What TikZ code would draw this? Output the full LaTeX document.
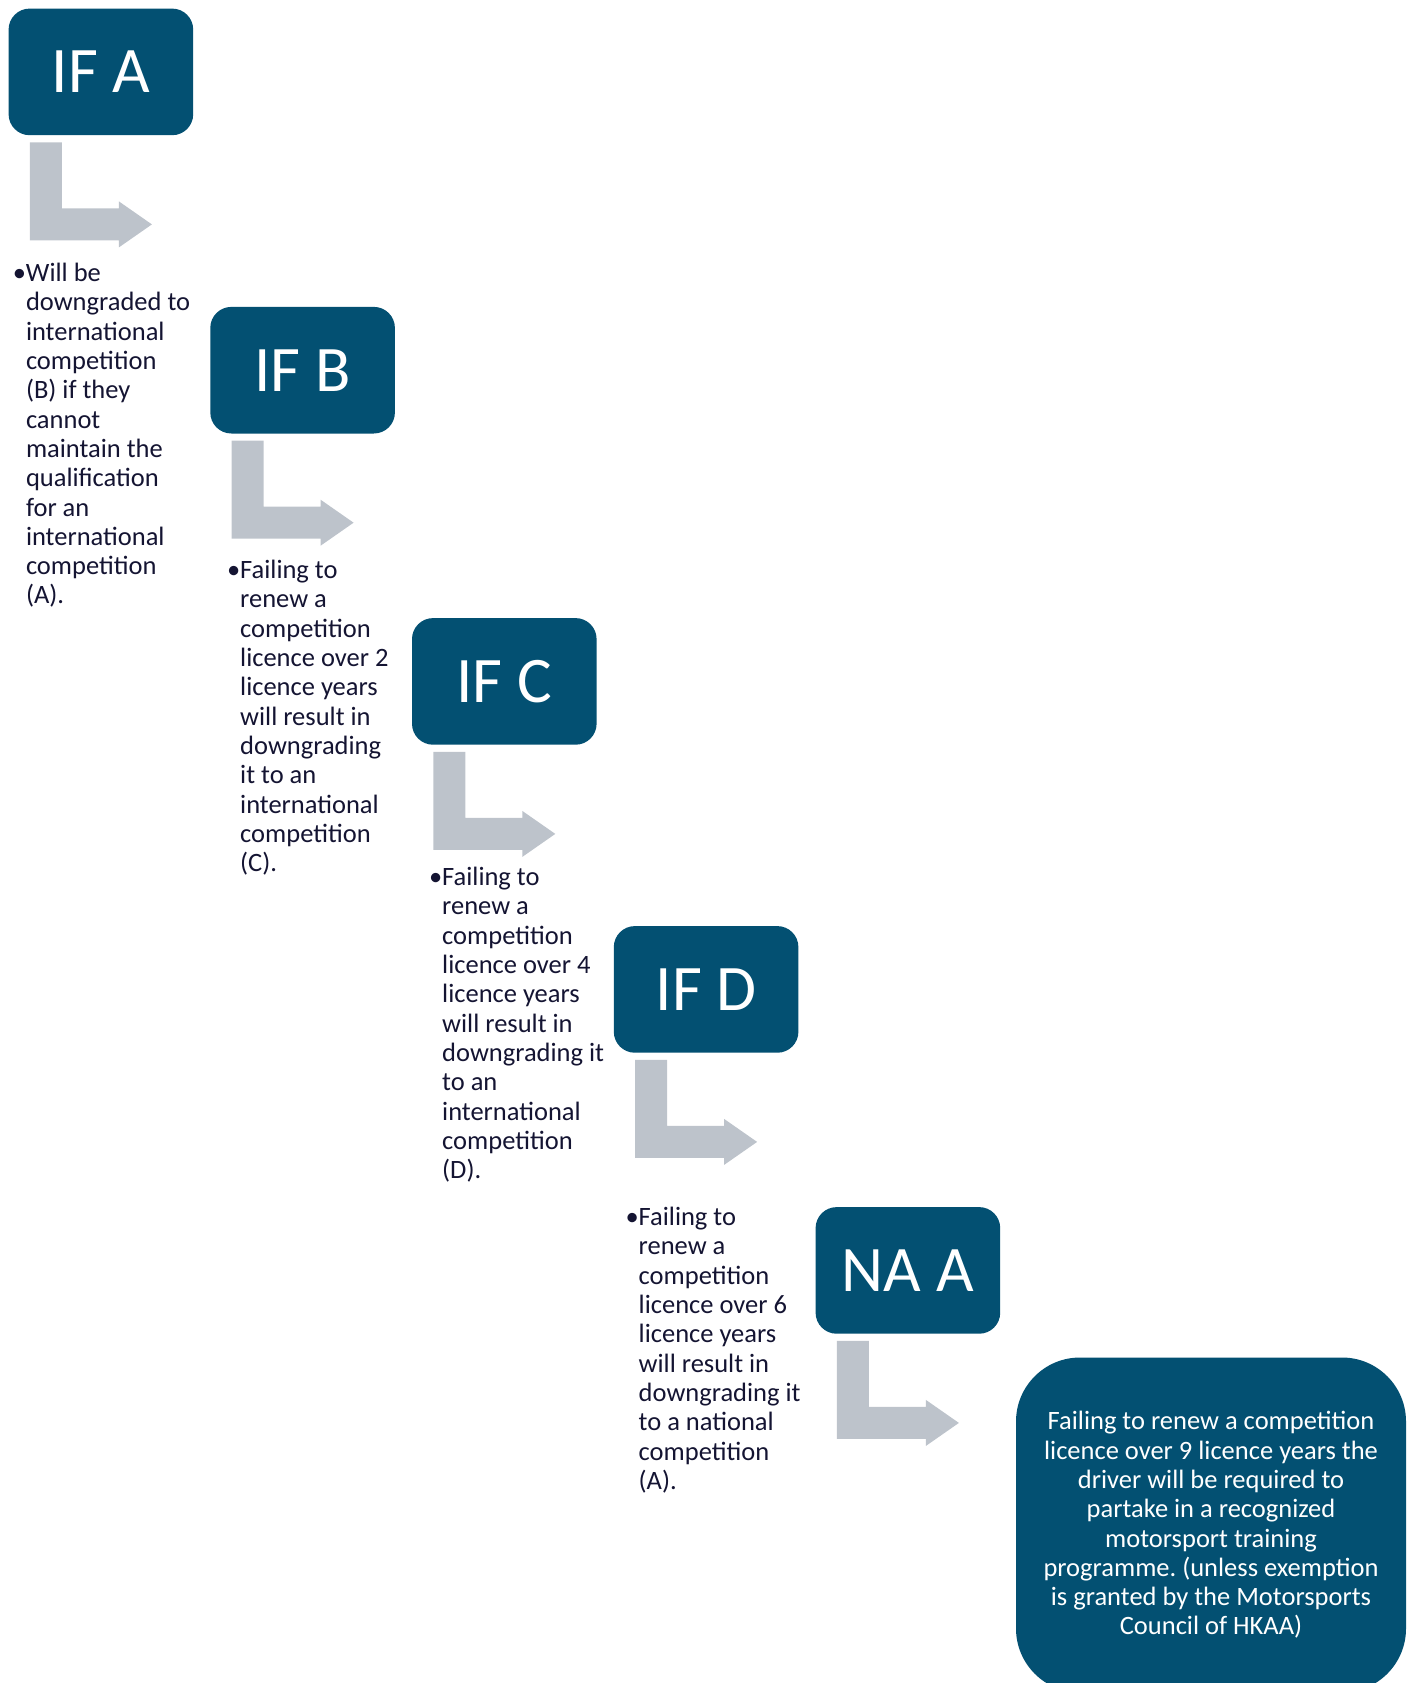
\documentclass[tikz,border=0pt]{standalone}
\usepackage{fontspec}
\setmainfont{Carlito}
\frenchspacing
\definecolor{boxblue}{HTML}{035072}
\definecolor{arrowgray}{HTML}{BDC3CB}
\definecolor{textnavy}{HTML}{141432}
\tikzset{
  grade/.style={fill=boxblue, text=white, rounded corners=21pt, minimum width=184.6pt,
    minimum height=126.6pt, inner sep=0pt, font=\fontsize{65}{72}\selectfont},
  ruletext/.style={anchor=north west, align=left, inner sep=0pt, text=textnavy,
    font=\fontsize{26.5}{29.3}\selectfont},
  lastbox/.style={fill=boxblue, text=white, rounded corners=64pt, minimum width=390pt,
    minimum height=335pt, inner sep=0pt, align=center, font=\fontsize{26.5}{29.3}\selectfont}
}
% bent grey arrow under a grade box
\newcommand{\bentarrow}[1]{%
  \fill[arrowgray, shift={(#1.south west)}] (21.5,7) -- (53.5,7) -- (53.5,73) -- (110.5,73)
    -- (110.5,66) -- (143.5,89) -- (110.5,112) -- (110.5,105) -- (21.5,105) -- cycle;}
\begin{document}
\begin{tikzpicture}[x=1pt,y=-1pt]
\useasboundingbox (0,0) rectangle (1410,1683);
\clip (0,0) rectangle (1410,1683);
% grade boxes
\node[grade] (ifa) at (100.9,71.9) {IF A};
\node[grade] (ifb) at (302.6,370.2) {IF B};
\node[grade] (ifc) at (504.3,681.4) {IF C};
\node[grade] (ifd) at (706.1,989.4) {IF D};
\node[grade] (naa) at (907.9,1270.4) {NA A};
\node[lastbox] (train) at (1211,1525) {Failing to renew a competition\\licence over 9 licence years the\\driver will be required to\\partake in a recognized\\motorsport training\\programme. (unless exemption\\is granted by the Motorsports\\Council of HKAA)};
% arrows
\bentarrow{ifa}
\bentarrow{ifb}
\bentarrow{ifc}
\bentarrow{ifd}
\bentarrow{naa}
% rules
\node[ruletext] (ra) at (25.8,263) {\llap{•}Will be\\downgraded to\\international\\competition\\(B) if they\\cannot\\maintain the\\qualification\\for an\\international\\competition\\(A).};
\node[ruletext] (rb) at (240,560) {\llap{•}Failing to\\renew a\\competition\\licence over 2\\licence years\\will result in\\downgrading\\it to an\\international\\competition\\(C).};
\node[ruletext] (rc) at (442,867) {\llap{•}Failing to\\renew a\\competition\\licence over 4\\licence years\\will result in\\downgrading it\\to an\\international\\competition\\(D).};
\node[ruletext] (rd) at (638.5,1207) {\llap{•}Failing to\\renew a\\competition\\licence over 6\\licence years\\will result in\\downgrading it\\to a national\\competition\\(A).};
\end{tikzpicture}
\end{document}
